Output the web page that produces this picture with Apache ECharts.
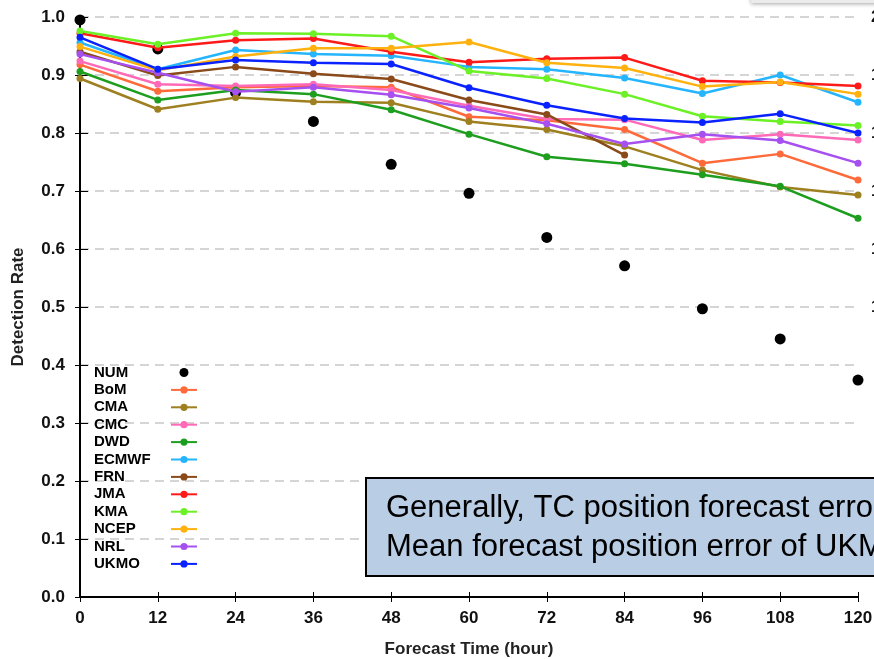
<!DOCTYPE html>
<html>
<head>
<meta charset="utf-8">
<script src="https://cdn.jsdelivr.net/npm/echarts@6/dist/echarts.min.js"></script>
<style>
html,body{margin:0;padding:0;background:#fff;}
#chart{width:874px;height:659px;}
</style>
</head>
<body>
<div id="chart"></div>
<script>
const hours = [0, 12, 24, 36, 48, 60, 72, 84, 96, 108, 120];
const xTickLabels = ['0', '12', '24', '36', '48', '60', '72', '84', '96', '108', '120'];
const yTickLabels = ['0.0', '0.1', '0.2', '0.3', '0.4', '0.5', '0.6', '0.7', '0.8', '0.9', '1.0'];
const rightTickLabels = ['', '', '', '', '', '100', '120', '140', '160', '180', '200'];

const NUM   = [0.995, 0.945, 0.870, 0.820, 0.746, 0.696, 0.620, 0.571, 0.497, 0.445, 0.374];
const BoM   = [0.918, 0.872, 0.879, 0.881, 0.879, 0.828, 0.822, 0.806, 0.748, 0.764, 0.719];
const CMA   = [0.894, 0.841, 0.861, 0.854, 0.852, 0.820, 0.806, 0.777, 0.736, 0.707, 0.693];
const CMC   = [0.924, 0.884, 0.881, 0.884, 0.874, 0.847, 0.824, 0.823, 0.788, 0.798, 0.788];
const DWD   = [0.906, 0.857, 0.874, 0.867, 0.840, 0.798, 0.759, 0.747, 0.728, 0.708, 0.653];
const ECMWF = [0.956, 0.910, 0.943, 0.936, 0.933, 0.914, 0.910, 0.895, 0.868, 0.900, 0.853];
const FRN   = [0.940, 0.899, 0.914, 0.902, 0.893, 0.857, 0.832, 0.762, null, null, null];
const JMA   = [0.972, 0.947, 0.960, 0.963, 0.940, 0.922, 0.928, 0.930, 0.890, 0.887, 0.881];
const KMA   = [0.976, 0.953, 0.972, 0.971, 0.967, 0.907, 0.894, 0.867, 0.829, 0.820, 0.813];
const NCEP  = [0.949, 0.908, 0.932, 0.946, 0.946, 0.957, 0.921, 0.912, 0.880, 0.888, 0.867];
const NRL   = [0.936, 0.904, 0.871, 0.879, 0.866, 0.843, 0.816, 0.781, 0.798, 0.787, 0.748];
const UKMO  = [0.965, 0.910, 0.926, 0.921, 0.919, 0.878, 0.848, 0.825, 0.818, 0.833, 0.800];

const seriesNames = ['BoM', 'CMA', 'CMC', 'DWD', 'ECMWF', 'FRN', 'JMA', 'KMA', 'NCEP', 'NRL', 'UKMO'];
const seriesValues = [BoM, CMA, CMC, DWD, ECMWF, FRN, JMA, KMA, NCEP, NRL, UKMO];
const seriesColors = ['#ff6a3a', '#9e8020', '#ff6ab8', '#1e9e1e', '#25b5ff', '#8a4a1a', '#ff1a1a', '#6cf026', '#ffb20f', '#a650f0', '#0a22ff'];

const boxLines = ['Generally, TC position forecast error of the', 'Mean forecast position error of UKMO'];

const FONT = '"Liberation Sans", Arial, Helvetica, sans-serif';
const pairs = arr => hours.map((h, i) => [h, arr[i]]);

const series = [{
  name: 'NUM', type: 'scatter', data: pairs(NUM), symbol: 'circle', symbolSize: 11,
  itemStyle: {color: '#000', opacity: 1}, z: 1, yAxisIndex: 0
}];
seriesNames.forEach((n, k) => {
  series.push({
    name: n, type: 'line', data: pairs(seriesValues[k]), symbol: 'circle', symbolSize: 7,
    showSymbol: true, connectNulls: false,
    lineStyle: {width: 2.5, color: seriesColors[k]},
    itemStyle: {color: seriesColors[k]}, z: 2
  });
});

const chart = echarts.init(document.getElementById('chart'), null, {renderer: 'canvas'});
chart.setOption({
  animation: false,
  backgroundColor: '#fff',
  grid: {left: 80, right: 16, top: 17, bottom: 62, containLabel: false, outerBoundsMode: 'none'},
  xAxis: [{
    type: 'value', min: 0, max: 120, interval: 12, position: 'bottom',
    name: 'Forecast Time (hour)', nameLocation: 'middle', nameGap: 44,
    nameTextStyle: {fontFamily: FONT, fontWeight: 'bold', fontSize: 17, color: '#222'},
    axisLine: {show: true, lineStyle: {color: '#000', width: 2}},
    axisTick: {show: true, inside: false, length: 5, lineStyle: {color: '#000', width: 1}},
    axisLabel: {margin: 13, fontFamily: FONT, fontWeight: 'bold', fontSize: 17, color: '#111',
      formatter: (v) => xTickLabels[hours.indexOf(v)]},
    splitLine: {show: false}
  }, {
    type: 'value', min: 0, max: 120, interval: 12, position: 'top',
    axisLine: {show: true, lineStyle: {color: '#000', width: 2}},
    axisTick: {show: true, inside: false, length: 5, lineStyle: {color: '#000', width: 1}},
    axisLabel: {show: false}, splitLine: {show: false}
  }],
  yAxis: [{
    type: 'value', min: 0, max: 1, interval: 0.1, position: 'left',
    name: 'Detection Rate', nameLocation: 'middle', nameGap: 53,
    nameTextStyle: {fontFamily: FONT, fontWeight: 'bold', fontSize: 17, color: '#222'},
    axisLine: {show: true, lineStyle: {color: '#000', width: 2}},
    axisTick: {show: true, inside: false, length: 5, lineStyle: {color: '#000', width: 1}},
    axisLabel: {margin: 15, fontFamily: FONT, fontWeight: 'bold', fontSize: 17, color: '#111',
      formatter: (v) => yTickLabels[Math.round(v * 10)]},
    splitLine: {show: true, lineStyle: {color: '#c8c8c8', width: 1.5, type: [9, 6]}}
  }, {
    type: 'value', min: 0, max: 1, interval: 0.1, position: 'right',
    axisLine: {show: true, lineStyle: {color: '#000', width: 2}},
    axisTick: {show: true, inside: false, length: 8, lineStyle: {color: '#000', width: 1}},
    axisLabel: {margin: 13, fontFamily: FONT, fontWeight: 'bold', fontSize: 17, color: '#111',
      formatter: (v) => rightTickLabels[Math.round(v * 10)]},
    splitLine: {show: false}
  }],
  legend: {
    orient: 'vertical', left: 89, top: 360, align: 'right',
    itemWidth: 26, itemHeight: 9, itemGap: 2.4,
    formatter: '{n|{name}}',
    textStyle: {fontFamily: FONT, fontWeight: 'bold', fontSize: 15, color: '#000', lineHeight: 15,
      rich: {n: {fontFamily: FONT, fontWeight: 'bold', fontSize: 15, color: '#000', width: 72, align: 'left', lineHeight: 15}}},
    data: ['NUM'].concat(seriesNames)
  },
  series: series,
  graphic: [{
    type: 'rect', z: 100, shape: {x: 751, y: -12, width: 140, height: 15},
    style: {fill: '#ebebeb', shadowBlur: 4, shadowColor: 'rgba(0,0,0,0.35)', shadowOffsetY: 1}
  }, {
    type: 'rect', z: 100, shape: {x: 366, y: 478, width: 540, height: 98},
    style: {fill: '#b9cde5', stroke: '#000', lineWidth: 2}
  }, {
    type: 'text', z: 101, left: 386, top: 493,
    style: {text: boxLines[0], fontFamily: FONT, fontSize: 31, fill: '#000'}
  }, {
    type: 'text', z: 101, left: 386, top: 532,
    style: {text: boxLines[1], fontFamily: FONT, fontSize: 31, fill: '#000'}
  }]
});
</script>
</body>
</html>
